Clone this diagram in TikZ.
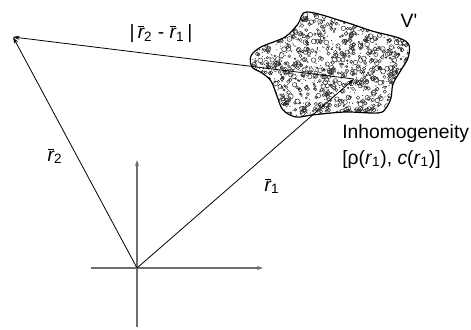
\documentclass[tikz,border=0pt]{standalone}
\usepackage{fontspec}
\setmainfont{Liberation Sans}
\usetikzlibrary{arrows.meta, positioning, calc}
\definecolor{axisgray}{HTML}{6E6E6E}
\newcommand{\rvec}[1]{$\overline{\mbox{\itshape r}}$\textsubscript{#1}}
\tikzset{
  vec/.style={line width=0.6pt, -{Stealth[length=5pt,width=3pt]}},
  axis/.style={axisgray, line width=0.9pt, -{Stealth[length=4.5pt,width=3pt]}},
  lbl/.style={font=\fontsize{14.5}{19.5}\selectfont, inner sep=0pt}
}
\begin{document}
\begin{tikzpicture}[x=0.75pt, y=-0.75pt]
\useasboundingbox (0,0) rectangle (471,329);
% coordinates
\coordinate (O) at (137,268);
\coordinate (P) at (354,79);
\coordinate (Q) at (13,37);
\coordinate (xl) at (91,268);
\coordinate (xr) at (263,268);
\coordinate (yb) at (137,327);
\coordinate (yt) at (137,160);

% inhomogeneity region V'
\def\blobpath{plot[smooth cycle, tension=0.55] coordinates {
  (307,12) (345,22) (372,31) (399,38) (409,45) (408,58) (401,70)
  (393,84) (391,98) (386,108) (378,113) (345,112) (312,115) (296,117)
  (283,110) (277,96) (271,81) (262,73) (252,67) (251,56) (261,47)
  (285,37) (298,24)}}
\fill[white] \blobpath;
\begin{scope}
\clip \blobpath;
\pgfmathsetseed{4217}
\foreach \i in {1,...,900}{
  \pgfmathsetmacro{\px}{248+165*rnd}
  \pgfmathsetmacro{\py}{8+112*rnd}
  \pgfmathsetmacro{\pr}{0.7+1.8*rnd}
  \draw[line width=0.35pt, black!85] (\px,\py) circle[radius=\pr];
}
\foreach \i in {1,...,700}{
  \pgfmathsetmacro{\px}{248+165*rnd}
  \pgfmathsetmacro{\py}{8+112*rnd}
  \fill[black!80] (\px,\py) circle[radius=0.6];
}
\end{scope}
\draw[line width=0.9pt] \blobpath;

% axes
\draw[axis] (xl) -- (xr);
\draw[axis] (yb) -- (yt);

% vectors
\draw[vec] (O) -- (P);
\draw[vec] (O) -- (Q);
\draw[vec] (P) -- (Q);

% labels
\node[lbl] (diff) at (161,34) {|\,\rvec{2} - \rvec{1}\,|};
\node[lbl] (rtwo) at (55,156) {\rvec{2}};
\node[lbl] (rone) at (272,186) {\rvec{1}};
\node[lbl] (vol) at (409,21) {V\textquotesingle};
\node[lbl, anchor=west, align=left] (inh) at (342,146)
  {Inhomogeneity\\{[}ρ(\textit{r}\textsubscript{1}), \textit{c}(\textit{r}\textsubscript{1})]};
\end{tikzpicture}
\end{document}
